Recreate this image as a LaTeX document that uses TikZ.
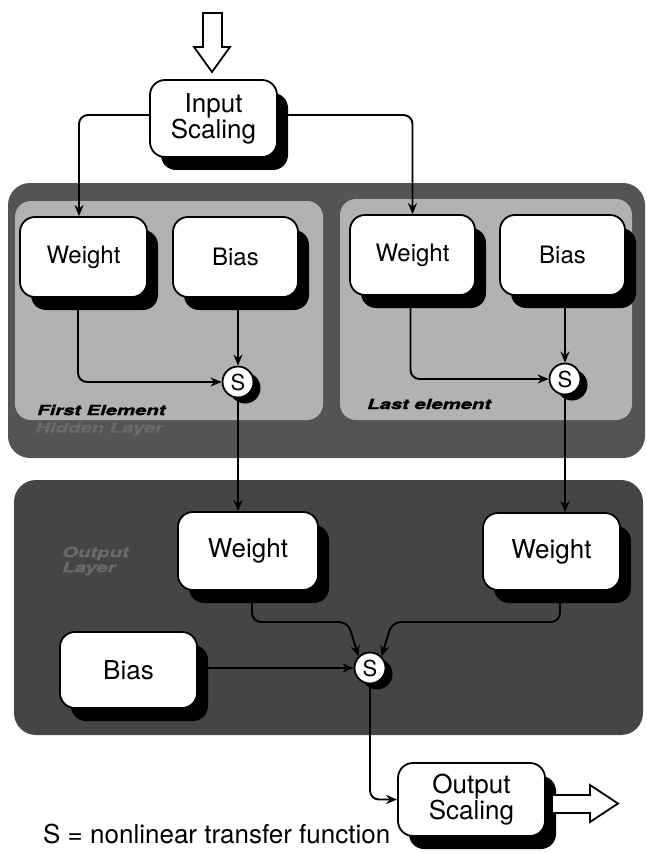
\documentclass[tikz,border=0pt]{standalone}
\usepackage{fontspec}
\setmainfont{TeX Gyre Heros}
\newfontfamily\tagfont[FakeStretch=1.45,FakeBold=1.5]{TeX Gyre Heros}
\usetikzlibrary{arrows.meta,shadows}
\pgfdeclarelayer{panel}
\pgfdeclarelayer{wires}
\pgfsetlayers{panel,wires,main}
\definecolor{panelgray}{gray}{0.70}
\definecolor{framegray}{gray}{0.33}
\definecolor{outgray}{gray}{0.27}
\definecolor{dimtext}{gray}{0.41}

\begin{document}
\begin{tikzpicture}[x=1pt,y=-1pt,
  box/.style={draw=black, line width=1.8pt, fill=white, rounded corners=15pt,
    inner sep=0pt, align=center, font=\fontsize{24}{26}\selectfont,
    general shadow={fill=black, shadow xshift=11pt, shadow yshift=-13pt}},
  bigbox/.style={box, font=\fontsize{26}{26}\selectfont},
  scalebox/.style={box, font=\fontsize{26}{25}\selectfont},
  sumnode/.style={circle, draw=black, line width=1.8pt, fill=white, minimum size=31pt,
    inner sep=0pt, font=\fontsize{22}{22}\selectfont,
    general shadow={fill=black, shadow xshift=7pt, shadow yshift=-6pt}},
  wire/.style={line width=1.9pt, rounded corners=9pt},
  tip/.style={-{Stealth[length=11pt,width=9pt]}},
  tag/.style={anchor=west, font=\tagfont\bfseries\itshape\fontsize{14}{15}\selectfont, inner sep=0pt},
  hollow/.style={draw=black, line width=1.8pt, fill=white, line join=miter}]

\useasboundingbox (0,0) rectangle (647,853);

% ---- scaling blocks ----
\node[scalebox, minimum width=127pt, minimum height=77pt] (insc) at (213.5,118.5) {Input\\Scaling};
\node[scalebox, minimum width=147pt, minimum height=73pt] (osc) at (471.5,799.5) {Output\\Scaling};

% ---- hidden layer: first element ----
\node[box, minimum width=127pt, minimum height=80pt] (w1) at (83.5,257) {Weight};
\node[box, minimum width=125pt, minimum height=80pt] (b1) at (235.5,257) {Bias};
\node[sumnode] (s1) at (238,382) {S};

% ---- hidden layer: last element ----
\node[box, minimum width=125pt, minimum height=80pt] (w2) at (412.5,255) {Weight};
\node[box, minimum width=125pt, minimum height=80pt] (b2) at (562.5,255) {Bias};
\node[sumnode] (s2) at (565,379) {S};

% ---- output layer ----
\node[bigbox, minimum width=140pt, minimum height=78pt] (ow1) at (248,551) {Weight};
\node[bigbox, minimum width=137pt, minimum height=77pt] (ow2) at (551.5,551.5) {Weight};
\node[bigbox, minimum width=137pt, minimum height=76pt] (ob) at (128.5,670) {Bias};
\node[sumnode] (s3) at (370,668) {S};

% ---- labels ----
\node[tag] (tfirst) at (37,410) {First Element};
\node[tag] (tlast) at (367,404) {Last element};
\node[tag, text=dimtext] (thidden) at (35,429) {Hidden Layer};
\node[tag, text=dimtext, align=left] (toutput) at (62,561) {Output\\Layer};
\node[anchor=base west, inner sep=0pt, font=\fontsize{26}{28}\selectfont] (caption) at (43,843)
  {S = nonlinear transfer function};

% ---- hollow in/out arrows ----
\coordinate (intip) at (212,72);
\draw[hollow] (203,13) -- (222,13) -- (222,47) -- (230,47) -- (intip) -- (194,47)
  -- (203,47) -- cycle;
\coordinate (outtip) at (618,803.5);
\draw[hollow] (553,795) -- (590,795) -- (590,785) -- (outtip) -- (590,822) -- (590,813)
  -- (553,813);

% ---- background panels ----
\begin{pgfonlayer}{panel}
  \fill[framegray, rounded corners=22pt] (8,183) rectangle (645,458);
  \fill[panelgray, rounded corners=16pt] (15,201) rectangle (323,420);
  \fill[panelgray, rounded corners=16pt] (340,199) rectangle (632,420);
  \fill[outgray, rounded corners=22pt] (14,480) rectangle (643,735);
\end{pgfonlayer}

% ---- connectors ----
\begin{pgfonlayer}{wires}
  \draw[wire, tip] ([yshift=3.5pt]insc.west) -| ([xshift=-4.5pt]w1.north);
  \draw[wire, tip] ([yshift=3.5pt]insc.east) -| (w2.north);

  \draw[wire, tip] ([xshift=-5.5pt]w1.south) |- (s1.west);
  \draw[wire, tip] (b1.south -| s1) -- (s1.north);
  \draw[wire, tip] ([xshift=-2pt]w2.south) |- (s2.west);
  \draw[wire, tip] (b2.south -| s2) -- (s2.north);

  \draw[wire, tip] (s1.south) -- (s1 |- ow1.north);
  \draw[wire, tip] (s2.south) -- (s2 |- ow2.north);

  \draw[wire, tip] ([xshift=4pt]ow1.south) |- ([xshift=-22pt,yshift=46pt]s3.center) -- (s3.north west);
  \draw[wire, tip] ([xshift=8.5pt]ow2.south) |- ([xshift=22pt,yshift=46pt]s3.center) -- (s3.north east);
  \draw[wire, tip] (ob.east |- s3) -- (s3.west);

  \draw[wire, tip] (s3.south) |- (osc.west);
\end{pgfonlayer}
\end{tikzpicture}
\end{document}
